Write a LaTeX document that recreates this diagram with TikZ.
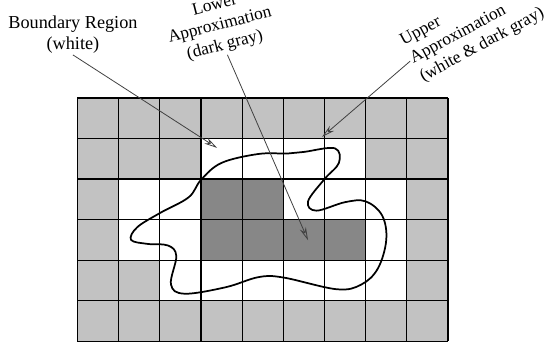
\documentclass[tikz,border=0pt]{standalone}
\usepackage{fontspec}
\setmainfont{Liberation Serif}
\usetikzlibrary{arrows.meta}
\definecolor{lgray}{gray}{0.76}
\definecolor{dgray}{gray}{0.53}
\tikzset{
  lbl/.style={font=\fontsize{12}{14.2}\selectfont,inner sep=1pt},
  pointer/.style={-{Stealth[open,length=9pt,width=4.5pt]},line width=0.55pt,draw=black!75},
  cellline/.style={line width=0.8pt},
  setline/.style={line width=1.2pt,line join=round}
}
\begin{document}
\begin{tikzpicture}[x=1cm,y=0.984cm]
\useasboundingbox(-1.882,-0.123)rectangle(11.574,8.42);
%cells
\fill[lgray](0,0)rectangle(9,6);
\fill[white](3,4)rectangle(7,5);
\fill[white](1,2)rectangle(8,4);
\fill[white](2,1)rectangle(8,2);
\fill[dgray](3,3)rectangle(5,4);
\fill[dgray](3,2)rectangle(7,3);
%grid lines
\foreach \x in {0,...,9}{
\draw[cellline](\x,0)--(\x,6);
}
\foreach \y in {0,...,6}{
\draw[cellline](0,\y)--(9,\y);
}
%the set
\draw[setline]plot[smooth cycle,tension=0.6]coordinates{
(4.4,4.62)(3.5,4.4)(3.0,3.98)(2.7,3.55)(2.0,3.16)(1.45,2.81)(1.3,2.5)
(1.7,2.4)(2.2,2.36)(2.4,2.1)(2.27,1.4)(2.6,1.17)(3.6,1.33)(4.4,1.58)
(5.0,1.57)(6.3,1.28)(6.9,1.4)(7.3,1.8)(7.5,2.5)(7.4,3.1)(7.0,3.45)
(6.5,3.43)(5.8,3.22)(5.6,3.45)(6.0,4.0)(6.35,4.4)(6.25,4.76)(5.5,4.67)(5.1,4.63)};
%labels
\node[lbl,font=\fontsize{12.6}{14.5}\selectfont,align=center](bnd)at(-0.11,7.57){Boundary Region\\(white)};
\node[lbl,align=center,rotate=14.5](low)at(3.46,7.78){Lower\\Approximation\\(dark gray)};
\node[lbl,align=left,rotate=28.4,anchor=west](upp)at(8.08,6.91){Upper\\Approximation\\(white \& dark gray)};
%arrow tips
\coordinate(bndtip)at(3.39,4.77);
\coordinate(lowtip)at(5.60,2.49);
\coordinate(upptip)at(5.94,5.04);
%pointers
\draw[pointer](bnd.south)--(bndtip);
\draw[pointer](low.south)--(lowtip);
\draw[pointer](upp.west)--(upptip);
\end{tikzpicture}
\end{document}
